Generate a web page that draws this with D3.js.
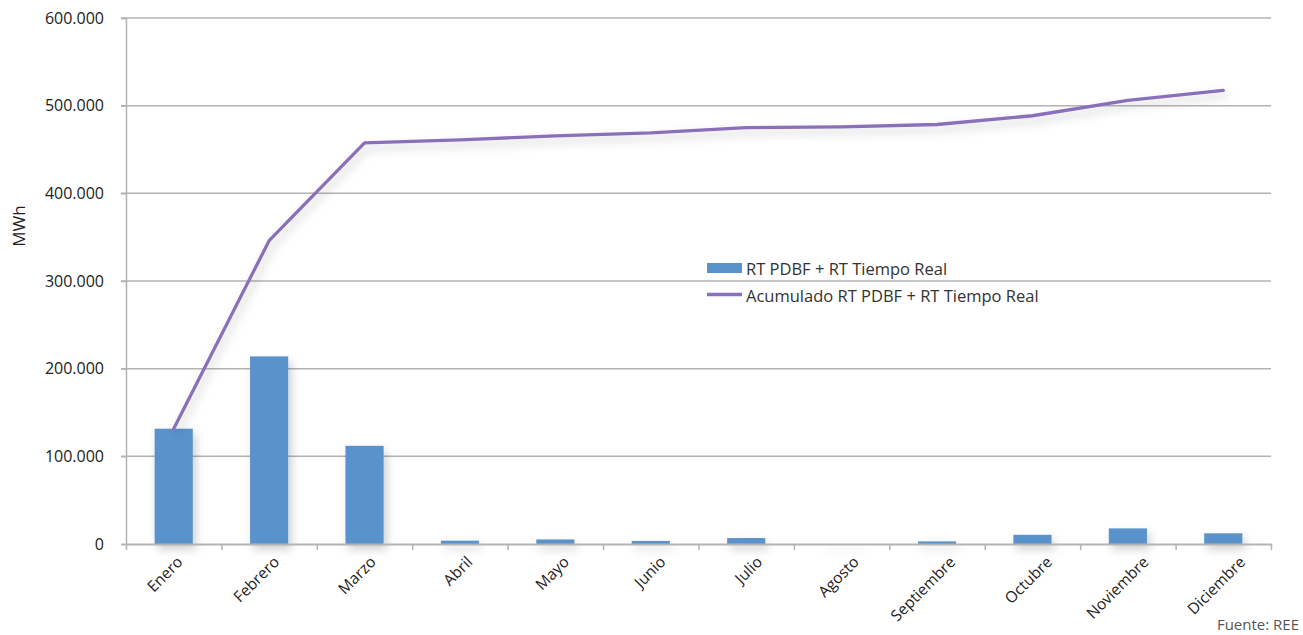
<!DOCTYPE html>
<html>
<head>
<meta charset="utf-8">
<script src="https://cdn.jsdelivr.net/npm/d3@7"></script>
<style>
  html, body { margin: 0; padding: 0; background: #fff; }
  svg { display: block; font-family: "Open Sans", "Noto Sans", sans-serif; }
</style>
</head>
<body>
<svg id="chart" width="1303" height="635"></svg>
<script>
// Monthly energy (MWh) and its running total
const months = ["Enero", "Febrero", "Marzo", "Abril", "Mayo", "Junio",
                "Julio", "Agosto", "Septiembre", "Octubre", "Noviembre", "Diciembre"];
const monthly = [131500, 214000, 112000, 3800, 5200, 3500, 6800, -1000, 3000, 10500, 17800, 12200];
const cumulative = [131500, 346000, 457500, 461000, 465500, 469000, 475000, 475800, 478500, 488500, 506000, 517500];
const yTicks = [0, 100000, 200000, 300000, 400000, 500000, 600000];
const seriesNames = ["RT PDBF + RT Tiempo Real", "Acumulado RT PDBF + RT Tiempo Real"];

const barColor = "#5a93cb";
const lineColor = "#8a6fba";
const gridColor = "#b3b3b3";
const textColor = "#222";

const svg = d3.select("#chart");
const plot = { left: 126, right: 1271, top: 18, bottom: 544 };

const fmt = d3.formatLocale({ decimal: ",", thousands: ".", grouping: [3], currency: ["", ""] }).format(",");

const x = d3.scaleBand().domain(months).range([plot.left, plot.right]).paddingInner(0.6).paddingOuter(0.3);
const xEdges = d3.scaleLinear().domain([0, months.length]).range([plot.left, plot.right]);
const y = d3.scaleLinear().domain([0, 600000]).range([plot.bottom, plot.top]);
const cx = m => x(m) + x.bandwidth() / 2;
// Rotated category labels spread slightly wider than the categories themselves
const labelX = d3.scaleLinear().domain([0, months.length - 1])
  .range([cx(months[0]) + 10, cx(months[months.length - 1]) + 23]);

// Soft shadow under bars and line
const defs = svg.append("defs");
const f = defs.append("filter").attr("id", "shadow").attr("x", "-40%").attr("y", "-30%").attr("width", "180%").attr("height", "170%");
f.append("feDropShadow").attr("dx", 3).attr("dy", 5).attr("stdDeviation", 5)
  .attr("flood-color", "#000").attr("flood-opacity", 0.2);

// Horizontal gridlines
svg.append("g")
  .selectAll("line")
  .data(yTicks.filter(d => d > 0))
  .join("line")
  .attr("x1", plot.left - 5).attr("x2", plot.right)
  .attr("y1", d => y(d)).attr("y2", d => y(d))
  .attr("stroke", gridColor).attr("stroke-width", 1.5);

// Y axis
const yAxis = svg.append("g")
  .attr("transform", `translate(${plot.left},0)`)
  .call(d3.axisLeft(y).tickValues(yTicks).tickFormat(fmt).tickSize(5).tickPadding(17));
yAxis.select(".domain").attr("stroke", gridColor).attr("stroke-width", 1.5);
yAxis.selectAll(".tick line").attr("stroke", gridColor).attr("stroke-width", 1.5);
yAxis.selectAll("text").attr("font-size", "16px").attr("fill", textColor)
  .attr("font-family", "'Open Sans', sans-serif");

// Bars
svg.append("g")
  .attr("filter", "url(#shadow)")
  .selectAll("rect")
  .data(months.map((m, i) => ({ m, v: monthly[i] })))
  .join("rect")
  .attr("x", d => x(d.m))
  .attr("width", x.bandwidth())
  .attr("y", d => y(Math.max(0, d.v)))
  .attr("height", d => Math.max(1, Math.abs(y(d.v) - y(0))))
  .attr("fill", barColor);

// X axis with ticks at category boundaries
const xAxis = svg.append("g")
  .attr("transform", `translate(0,${plot.bottom})`)
  .call(d3.axisBottom(xEdges).tickValues(d3.range(months.length + 1)).tickFormat("").tickSize(6).tickSizeOuter(0));
xAxis.select(".domain").attr("stroke", gridColor).attr("stroke-width", 2);
xAxis.selectAll(".tick line").attr("stroke", gridColor).attr("stroke-width", 1.5);

svg.append("g")
  .selectAll("text")
  .data(months)
  .join("text")
  .attr("transform", (d, i) => `translate(${labelX(i)},${plot.bottom + 19}) rotate(-45)`)
  .attr("text-anchor", "end")
  .attr("font-size", "15.5px")
  .attr("fill", textColor)
  .text(d => d);

// Cumulative line
const line = d3.line()
  .x((d, i) => cx(months[i]))
  .y(d => y(d));
svg.append("path")
  .datum(cumulative)
  .attr("d", line)
  .attr("fill", "none")
  .attr("stroke", lineColor)
  .attr("stroke-width", 3.3)
  .attr("stroke-linejoin", "round")
  .attr("stroke-linecap", "round")
  .attr("filter", "url(#shadow)");

// Axis title
svg.append("text")
  .attr("transform", "translate(25,226) rotate(-90)")
  .attr("text-anchor", "middle")
  .attr("font-size", "17px")
  .attr("fill", textColor)
  .text("MWh");

// Legend
const lg = svg.append("g").attr("transform", "translate(707,0)");
lg.append("rect").attr("x", 0).attr("y", 263).attr("width", 35).attr("height", 10).attr("fill", barColor);
lg.append("text").attr("x", 39).attr("y", 274.5).attr("font-size", "16.5px").attr("fill", "#333").text(seriesNames[0]);
lg.append("line").attr("x1", 0).attr("x2", 35).attr("y1", 294.5).attr("y2", 294.5)
  .attr("stroke", lineColor).attr("stroke-width", 3.5);
lg.append("text").attr("x", 39).attr("y", 302).attr("font-size", "16.5px").attr("fill", "#333").text(seriesNames[1]);

// Source note
svg.append("text")
  .attr("x", 1299).attr("y", 630)
  .attr("text-anchor", "end")
  .attr("font-size", "15px")
  .attr("fill", "#555")
  .text("Fuente: REE");
</script>
</body>
</html>
